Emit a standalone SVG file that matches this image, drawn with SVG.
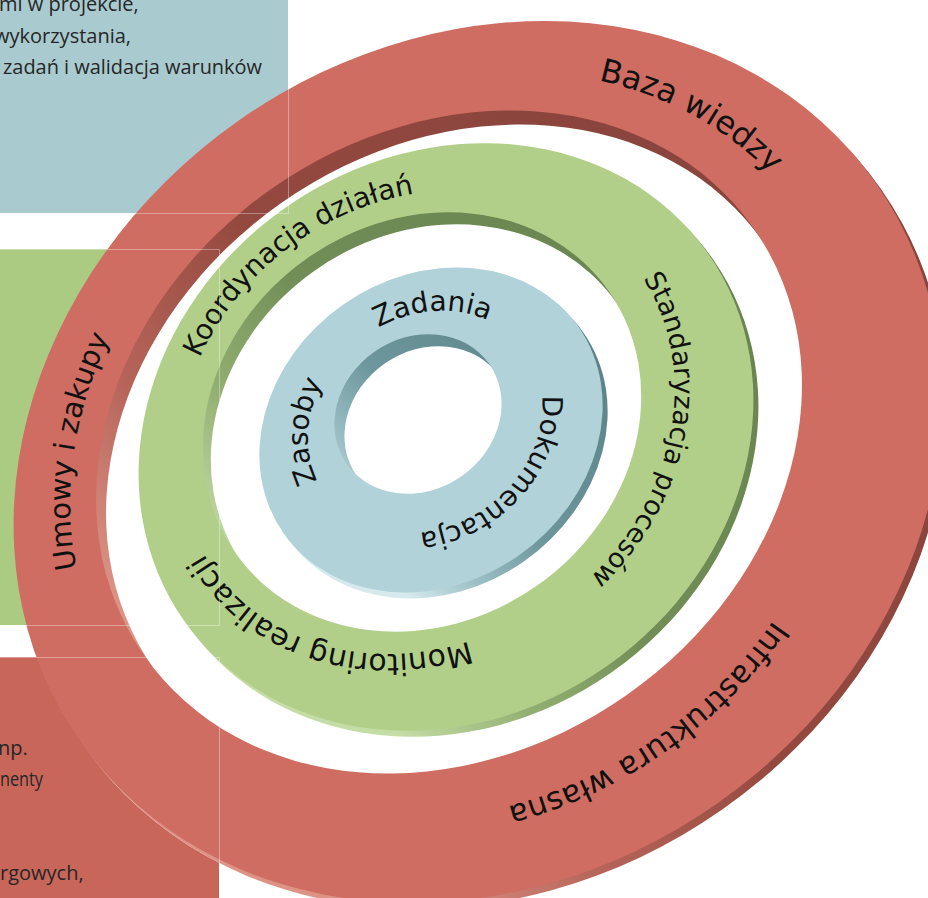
<svg xmlns="http://www.w3.org/2000/svg" width="928" height="898" viewBox="0 0 928 898">
<style>
.lbl{font-family:"DejaVu Sans",Verdana,sans-serif;fill:#111;}
.boxt{font-family:"Open Sans","Noto Sans",sans-serif;font-size:20px;fill:#262626;}
.edge{fill:none;stroke:#ffffff;stroke-opacity:0.35;stroke-width:1;}
</style>
<defs>
<linearGradient id="gRed" x1="0.7" y1="0" x2="0.05" y2="0.6">
<stop offset="0" stop-color="#87433D"/><stop offset="0.55" stop-color="#94493F"/><stop offset="0.8" stop-color="#B7655A"/><stop offset="1" stop-color="#DD9486"/>
</linearGradient>
<linearGradient id="gGreen" x1="0.7" y1="0" x2="0.05" y2="0.6">
<stop offset="0" stop-color="#698450"/><stop offset="0.55" stop-color="#718E57"/><stop offset="0.8" stop-color="#93B073"/><stop offset="1" stop-color="#C4DCA6"/>
</linearGradient>
<linearGradient id="gBlue" x1="0.7" y1="0" x2="0.05" y2="0.6">
<stop offset="0" stop-color="#5B8388"/><stop offset="0.55" stop-color="#6E979D"/><stop offset="0.8" stop-color="#9CC0C5"/><stop offset="1" stop-color="#D6EAED"/>
</linearGradient>
<path id="pBaza" d="M-76.5,-355 A420,361 0 0,1 213.2,311"/>
<path id="pUmowy" d="M-288.9,245.3 A405,350 0 0,1 174.4,-315.9"/>
<path id="pInfra" d="M399.8,60.2 A406,347 0 0,1 -399.8,60.2"/>
<path id="pKoord" d="M-253.7,-26 A255.5,219.5 0 0,1 248.8,-50.1"/>
<path id="pStand" d="M197.4,-150.7 A263.5,227.5 0 0,1 -125.7,199.9"/>
<path id="pMonit" d="M89.1,205.7 A255.5,219.5 0 0,1 -165.6,-167.2"/>
<path id="pZad" d="M-81.2,-78.9 A123,105 0 0,1 107.9,50.4"/>
<path id="pDok" d="M122.2,-11.7 A123,105 0 0,1 -110.2,46.7"/>
<path id="pZas" d="M-80,79.7 A123,105 0 0,1 43.3,-98.3"/>
</defs>
<rect width="928" height="898" fill="#ffffff"/>

<g id="box-blue">
<rect x="0" y="0" width="288" height="213" fill="#A9CBD0"/>
<text class="boxt" x="-1" y="11">mi w projekcie,</text>
<text class="boxt" x="-6" y="43">wykorzystania,</text>
<text class="boxt" x="3" y="74" textLength="259" lengthAdjust="spacingAndGlyphs">zadań i walidacja warunków</text>
</g>
<g id="box-green">
<rect x="0" y="249" width="219" height="376" fill="#AACB81"/>
</g>
<g id="box-red">
<rect x="0" y="657" width="219" height="241" fill="#C9665A"/>
<text class="boxt" x="-2" y="755">np.</text>
<text class="boxt" x="0" y="786" textLength="43" lengthAdjust="spacingAndGlyphs">nenty</text>
<text class="boxt" x="0" y="880">rgowych,</text>
</g>

<g id="ring-red">
<path fill="#ffffff" d="M881.1,189.2 A486,417 -35 1,1 84.9,746.8 A486,417 -35 1,1 881.1,189.2 Z"/>
<path fill="url(#gRed)" fill-rule="evenodd" d="M881.1,189.2 A486,417 -35 1,1 84.9,746.8 A486,417 -35 1,1 881.1,189.2 Z M763.7,242.6 A372,308 -35 1,1 154.3,669.4 A372,308 -35 1,1 763.7,242.6 Z"/>
<path fill="#CF6D62" fill-rule="evenodd" d="M876.1,183.2 A486,417 -35 1,1 79.9,740.8 A486,417 -35 1,1 876.1,183.2 Z M753.7,228.6 A372,308 -35 1,1 144.3,655.4 A372,308 -35 1,1 753.7,228.6 Z"/>
<g transform="translate(458,453) rotate(-35)">
<text class="lbl" font-size="32" text-anchor="middle"><textPath href="#pBaza" startOffset="50%">Baza wiedzy</textPath></text>
<text class="lbl" font-size="29" text-anchor="middle"><textPath href="#pUmowy" startOffset="50%">Umowy i zakupy</textPath></text>
<text class="lbl" font-size="31" text-anchor="middle"><textPath href="#pInfra" startOffset="50%">Infrastruktura własna</textPath></text>
</g>
</g>

<g id="ring-green">
<path fill="url(#gGreen)" fill-rule="evenodd" d="M713.1,259.4 A320,280 -35 1,1 188.9,626.6 A320,280 -35 1,1 713.1,259.4 Z M616.8,303.2 A228,200 -35 1,1 243.2,564.8 A228,200 -35 1,1 616.8,303.2 Z"/>
<path fill="#B1CF89" fill-rule="evenodd" d="M708.1,253.4 A320,280 -35 1,1 183.9,620.6 A320,280 -35 1,1 708.1,253.4 Z M608.8,291.2 A228,200 -35 1,1 235.2,552.8 A228,200 -35 1,1 608.8,291.2 Z"/>
<g transform="translate(422.5,422) rotate(-35)">
<text class="lbl" font-size="28" text-anchor="middle"><textPath href="#pKoord" startOffset="50%">Koordynacja działań</textPath></text>
<text class="lbl" font-size="27" text-anchor="middle"><textPath href="#pStand" startOffset="50%">Standaryzacja procesów</textPath></text>
<text class="lbl" font-size="30" text-anchor="middle"><textPath href="#pMonit" startOffset="50%">Monitoring realizacji</textPath></text>
</g>
</g>

<g id="ring-blue">
<path fill="url(#gBlue)" fill-rule="evenodd" d="M583.5,332.8 A180,153 -35 1,1 288.5,539.2 A180,153 -35 1,1 583.5,332.8 Z M499.3,376.1 A87,76 -35 1,1 356.7,475.9 A87,76 -35 1,1 499.3,376.1 Z"/>
<path fill="#B0D2D8" fill-rule="evenodd" d="M578.5,326.8 A180,153 -35 1,1 283.5,533.2 A180,153 -35 1,1 578.5,326.8 Z M489.3,364.1 A87,76 -35 1,1 346.7,463.9 A87,76 -35 1,1 489.3,364.1 Z"/>
<g transform="translate(425,422) rotate(-35)">
<text class="lbl" font-size="28" text-anchor="middle"><textPath href="#pZad" startOffset="50%">Zadania</textPath></text>
<text class="lbl" font-size="28" text-anchor="middle"><textPath href="#pDok" startOffset="50%">Dokumentacja</textPath></text>
<text class="lbl" font-size="28" text-anchor="middle"><textPath href="#pZas" startOffset="50%">Zasoby</textPath></text>
</g>
</g>

<g id="box-edges">
<path class="edge" d="M0.5,213.5 H288.5 V0"/>
<path class="edge" d="M0,249.5 H219.5 V625.5 H0"/>
<path class="edge" d="M0,657.5 H219.5 V898"/>
</g>
<g id="connectors"/>
</svg>
